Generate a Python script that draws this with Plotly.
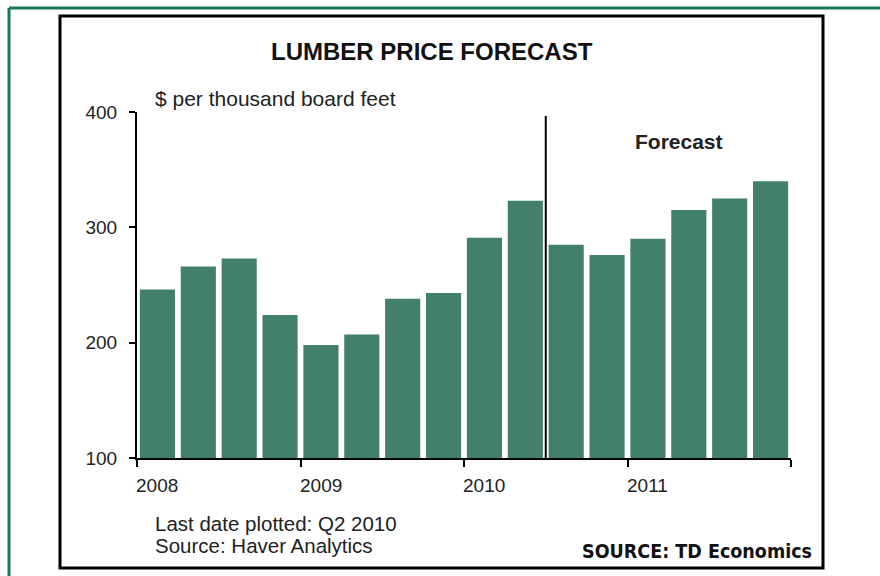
import plotly.graph_objects as go

# ---- data ----
quarters = ["2008Q1", "2008Q2", "2008Q3", "2008Q4",
            "2009Q1", "2009Q2", "2009Q3", "2009Q4",
            "2010Q1", "2010Q2", "2010Q3", "2010Q4",
            "2011Q1", "2011Q2", "2011Q3", "2011Q4"]
prices = [246, 266, 273, 224, 198, 207, 238, 243, 291, 323,
          285, 276, 290, 315, 325, 340]
year_labels = ["2008", "2009", "2010", "2011"]
year_positions = [0, 4, 8, 12]          # first quarter of each year (index)
year_boundaries = [-0.5, 3.5, 7.5, 11.5, 15.5]
y_ticks = [100, 200, 300, 400]
forecast_split = 9.5                    # between 2010Q2 and 2010Q3

FONT = "Liberation Sans, Arial, sans-serif"
NARROW = "Liberation Sans Narrow, DejaVu Sans Condensed, Arial Narrow, sans-serif"
BAR = "#43806c"
GREEN = "#17785b"

x_idx = list(range(len(quarters)))

fig = go.Figure()
fig.add_trace(go.Bar(
    x=x_idx, y=prices, marker=dict(color=BAR, line=dict(width=0)),
    hovertext=quarters, showlegend=False,
))

# plot area: x 137..791 px, y 112..458 px
L, R, T, B = 137, 880 - 791, 112, 576 - 458
W, H = 880 - L - R, 576 - T - B

def px(xp):
    return (xp - L) / W

def py(yp):
    return (576 - B - yp) / H

fig.update_layout(
    width=880, height=576,
    margin=dict(l=L, r=R, t=T, b=B, pad=0),
    paper_bgcolor="white", plot_bgcolor="white",
    bargap=0.14,
    font=dict(family=FONT, color="#222222", size=19),
    xaxis=dict(
        range=[-0.5, 15.5], showgrid=False, zeroline=False,
        showline=True, linecolor="black", linewidth=2,
        tickvals=year_positions, ticktext=["" for _ in year_labels], ticks="",
        minor=dict(tickvals=year_boundaries, ticks="outside", ticklen=7,
                   tickwidth=2, tickcolor="black", showgrid=False),
        fixedrange=True,
    ),
    yaxis=dict(
        range=[100, 400], showgrid=False, zeroline=False,
        showline=True, linecolor="black", linewidth=2,
        tickvals=y_ticks, ticks="outside", ticklen=6, tickwidth=2,
        tickcolor="black", ticklabelstandoff=8,
        tickfont=dict(size=19, family=FONT, color="#222222"),
    ),
)

# year labels under the axis
for lab, pos in zip(year_labels, year_positions):
    fig.add_annotation(x=pos, y=0, xref="x", yref="paper", text=lab,
                       showarrow=False, xanchor="center", yanchor="middle",
                       yshift=-27, font=dict(size=19, family=FONT, color="#222222"))

# forecast divider
fig.add_shape(type="line", xref="x", yref="y", x0=forecast_split, x1=forecast_split,
              y0=100, y1=396.5, line=dict(color="black", width=2))

# inner black frame
fig.add_shape(type="rect", xref="paper", yref="paper",
              x0=px(60), x1=px(823), y0=py(568), y1=py(16),
              line=dict(color="black", width=3), layer="above")
# outer green frame: only top and left edges are inside the picture
fig.add_shape(type="line", xref="paper", yref="paper",
              x0=px(9), x1=px(880), y0=py(8), y1=py(8),
              line=dict(color=GREEN, width=3), layer="above")
fig.add_shape(type="line", xref="paper", yref="paper",
              x0=px(9), x1=px(9), y0=py(8), y1=py(576),
              line=dict(color=GREEN, width=3), layer="above")

# texts
fig.add_annotation(x=px(432), y=py(51), xref="paper", yref="paper",
                   text="<b>LUMBER PRICE FORECAST</b>", showarrow=False,
                   xanchor="center", yanchor="middle",
                   font=dict(size=24, family=FONT, color="#111111"))
fig.add_annotation(x=px(153), y=py(98), xref="paper", yref="paper",
                   text="$ per thousand board feet", showarrow=False,
                   xanchor="left", yanchor="middle",
                   font=dict(size=21, family=FONT, color="#222222"))
fig.add_annotation(x=px(679), y=py(141), xref="paper", yref="paper",
                   text="<b>Forecast</b>", showarrow=False,
                   xanchor="center", yanchor="middle",
                   font=dict(size=21, family=FONT, color="#222222"))
fig.add_annotation(x=px(153), y=py(523), xref="paper", yref="paper",
                   text="Last date plotted: Q2 2010", showarrow=False,
                   xanchor="left", yanchor="middle",
                   font=dict(size=20.5, family=FONT, color="#222222"))
fig.add_annotation(x=px(153), y=py(545), xref="paper", yref="paper",
                   text="Source: Haver Analytics", showarrow=False,
                   xanchor="left", yanchor="middle",
                   font=dict(size=20.5, family=FONT, color="#222222"))
fig.add_annotation(x=px(814), y=py(551), xref="paper", yref="paper",
                   text="<b>SOURCE: TD Economics</b>", showarrow=False,
                   xanchor="right", yanchor="middle",
                   font=dict(size=19.5, family=NARROW, color="#111111"))

fig.write_html("out.html",
               config={"displayModeBar": False},
               post_script="document.body.style.margin='0';"
                           "document.body.style.overflow='hidden';")
